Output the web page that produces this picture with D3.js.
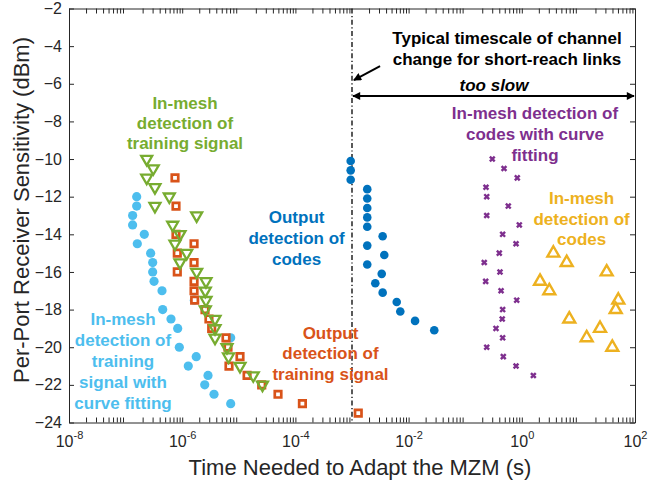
<!DOCTYPE html>
<html>
<head>
<meta charset="utf-8">
<script src="https://cdn.jsdelivr.net/npm/d3@7"></script>
<style>
  body { margin: 0; background: #fff; }
  svg text { font-family: "Liberation Sans", Arial, Helvetica, sans-serif; }
  .axis path, .axis line { stroke: #262626; stroke-width: 1; }
  .axis text { fill: #262626; font-size: 16px; }
  .note { font-weight: bold; font-size: 17px; text-anchor: middle; }
</style>
</head>
<body>
<svg id="chart"></svg>
<script>
// in-mesh detection of training signal with curve fitting (light blue)
var fitTrainX = [1.57e-7, 1.57e-7, 1.33e-7, 1.33e-7, 2.14e-7, 1.61e-7, 2.77e-7, 3.01e-7, 3.01e-7, 3.18e-7, 4.40e-7, 1.64e-6,
  4.52e-7, 6.34e-7, 8.32e-7, 7.19e-6, 8.89e-7, 1.77e-6, 1.28e-6, 2.86e-6, 2.50e-6, 3.65e-6, 7.19e-6];
var fitTrainY = [-12, -12.5, -13, -13.5, -14, -14.5, -15, -15.5, -16, -16.5, -17, -17.5,
  -18, -18.5, -19, -19.5, -20, -20.5, -21, -21.5, -22, -22.5, -23];

// output detection of training signal (orange)
var outTrainX = [7.46e-7, 7.77e-7, 7.77e-7, 1.62e-6, 8.19e-7, 1.62e-6, 8.19e-7, 1.62e-6, 1.62e-6, 1.66e-6, 2.53e-6,
  2.97e-6, 3.32e-6, 5.94e-6, 6.44e-6, 1.05e-5, 6.71e-6, 1.40e-5, 2.54e-5, 4.93e-5, 1.33e-4, 1.29e-3];
var outTrainY = [-11, -12.5, -14, -14.5, -15, -15.5, -16, -16.5, -17, -17.5, -18,
  -18.5, -19, -19.5, -20, -20.5, -21, -21.5, -22, -22.5, -23, -23.5];

// in-mesh detection of training signal (green)
var meshTrainX = [2.36e-7, 3.08e-7, 2.36e-7, 3.30e-7, 5.92e-7, 3.30e-7, 1.80e-6, 6.79e-7, 9.14e-7, 7.46e-7, 1.20e-6, 9.14e-7, 1.80e-6,
  2.63e-6, 2.56e-6, 2.63e-6, 2.56e-6, 3.80e-6, 3.80e-6, 3.80e-6, 6.19e-6, 6.58e-6, 1.05e-5, 1.80e-5, 2.62e-5];
var meshTrainY = [-10, -10.5, -11, -11.5, -12, -12.5, -13, -13.5, -14, -14.5, -15, -15.5, -16,
  -16.5, -17, -17.5, -18, -18.5, -19, -19.5, -20, -20.5, -21, -21.5, -22];

// output detection of codes (dark blue)
var outCodesX = [9.48e-4, 9.48e-4, 9.48e-4, 1.86e-3, 1.86e-3, 1.86e-3, 1.86e-3, 1.86e-3, 3.48e-3, 1.86e-3,
  3.72e-3, 1.86e-3, 3.35e-3, 2.58e-3, 3.48e-3, 6.17e-3, 7.13e-3, 1.30e-2, 2.84e-2];
var outCodesY = [-10.1, -10.6, -11.1, -11.6, -12.1, -12.6, -13.1, -13.6, -14.1, -14.6,
  -15.1, -15.6, -16.1, -16.6, -17.1, -17.6, -18.1, -18.6, -19.1];

// in-mesh detection of codes with curve fitting (purple)
var fitCodesX = [0.301, 0.485, 0.832, 0.233, 0.240, 0.577, 0.240, 0.904, 0.459, 0.791, 0.400, 0.217,
  0.412, 0.230, 0.430, 0.813, 0.459, 0.451, 0.350, 0.459, 0.240, 0.471, 0.791, 1.60];
var fitCodesY = [-10, -10.5, -11, -11.5, -12, -12.5, -13, -13.5, -14, -14.5, -15, -15.5,
  -16, -16.5, -17, -17.5, -18, -18.5, -19, -19.5, -20, -20.5, -21, -21.5];

// in-mesh detection of codes (yellow)
var meshCodesX = [3.61, 6.21, 31.6, 2.10, 3.06, 50.7, 45.6, 6.90, 24.1, 14.0, 39.7];
var meshCodesY = [-15, -15.5, -16, -16.5, -17, -17.5, -18, -18.5, -19, -19.5, -20];

// ticks
var xExponents = [-8, -6, -4, -2, 0, 2];
var yTicks = [-2, -4, -6, -8, -10, -12, -14, -16, -18, -20, -22, -24];

var margin = { top: 8.5, right: 15, bottom: 65.5, left: 69 };
var width = 650;
var height = 488;

var svg = d3.select('#chart')
  .attr('width', width)
  .attr('height', height);

var x = d3.scaleLog()
  .domain([1e-8, 1e2])
  .range([margin.left, width - margin.right]);

var y = d3.scaleLinear()
  .domain([-24, -2])
  .range([height - margin.bottom, margin.top]);

function zip(xs, ys) {
  return xs.map(function(v, i) { return { x: v, y: ys[i] }; });
}

// major / minor x ticks
var xMajor = xExponents.map(function(e) { return Math.pow(10, e); });
var xMinor = [];
for (var e = -8; e < 2; e++) {
  for (var k = 2; k <= 9; k++) xMinor.push(k * Math.pow(10, e));
}

// 坐标轴
var bottom = svg.append('g')
  .attr('class', 'axis')
  .attr('transform', 'translate(0,' + y(-24) + ')')
  .call(d3.axisBottom(x).tickValues(xMajor).tickSize(-5).tickSizeOuter(0).tickPadding(13).tickFormat(''));

bottom.selectAll('.tick text')
  .each(function(d, i) {
    var t = d3.select(this);
    t.append('tspan').text('10');
    t.append('tspan')
      .attr('font-size', 11)
      .attr('dy', '-0.75em')
      .text(xExponents[i]);
  });

svg.append('g')
  .attr('class', 'axis')
  .attr('transform', 'translate(0,' + y(-24) + ')')
  .call(d3.axisBottom(x).tickValues(xMinor).tickSize(-5).tickFormat(''))
  .call(function(g) { g.select('.domain').remove(); });

svg.append('g')
  .attr('class', 'axis')
  .attr('transform', 'translate(0,' + y(-2) + ')')
  .call(d3.axisTop(x).tickValues(xMajor.concat(xMinor)).tickSize(-5).tickSizeOuter(0).tickFormat(''));

svg.append('g')
  .attr('class', 'axis')
  .attr('transform', 'translate(' + x(1e-8) + ',0)')
  .call(d3.axisLeft(y).tickValues(yTicks).tickSize(-5).tickSizeOuter(0).tickPadding(7));

svg.append('g')
  .attr('class', 'axis')
  .attr('transform', 'translate(' + x(1e2) + ',0)')
  .call(d3.axisRight(y).tickValues(yTicks).tickSize(-5).tickSizeOuter(0).tickFormat(''));

// axis titles
svg.append('text')
  .attr('x', 360)
  .attr('y', 475)
  .attr('text-anchor', 'middle')
  .attr('font-size', 22)
  .attr('fill', '#262626')
  .text('Time Needed to Adapt the MZM (s)');

svg.append('text')
  .attr('transform', 'translate(29,210) rotate(-90)')
  .attr('text-anchor', 'middle')
  .attr('font-size', 22)
  .attr('fill', '#262626')
  .text('Per-Port Receiver Sensitivity (dBm)');

// dash-dot line at 1 ms
svg.append('line')
  .attr('x1', x(1e-3))
  .attr('x2', x(1e-3))
  .attr('y1', y(-2))
  .attr('y2', y(-24))
  .attr('stroke', '#000')
  .attr('stroke-width', 1.3)
  .attr('stroke-dasharray', '5,2.5,1.2,2.5');

// arrow heads
var defs = svg.append('defs');
defs.append('marker')
  .attr('id', 'head')
  .attr('viewBox', '0 0 10 10')
  .attr('refX', 9)
  .attr('refY', 5)
  .attr('markerUnits', 'userSpaceOnUse')
  .attr('markerWidth', 10)
  .attr('markerHeight', 8)
  .attr('orient', 'auto-start-reverse')
  .append('path')
  .attr('d', 'M0,0L10,5L0,10z')
  .attr('fill', '#000');

svg.append('line')
  .attr('x1', x(1e-3) + 1)
  .attr('x2', x(1e2) - 1)
  .attr('y1', y(-6.65))
  .attr('y2', y(-6.65))
  .attr('stroke', '#000')
  .attr('stroke-width', 2)
  .attr('marker-start', 'url(#head)')
  .attr('marker-end', 'url(#head)');

svg.append('line')
  .attr('x1', x(3.13e-3))
  .attr('y1', y(-5.06))
  .attr('x2', x(1.08e-3))
  .attr('y2', y(-5.8))
  .attr('stroke', '#000')
  .attr('stroke-width', 2)
  .attr('marker-end', 'url(#head)');

svg.append('text')
  .attr('class', 'note')
  .attr('x', x(0.323))
  .attr('y', y(-6.38))
  .attr('font-style', 'italic')
  .attr('font-size', 16)
  .attr('fill', '#000')
  .text('too slow');

// 数据点
svg.append('g')
  .selectAll('circle')
  .data(zip(fitTrainX, fitTrainY))
  .enter()
  .append('circle')
  .attr('cx', function(d) { return x(d.x); })
  .attr('cy', function(d) { return y(d.y); })
  .attr('r', 4.6)
  .attr('fill', '#4DBEEE');

svg.append('g')
  .selectAll('path')
  .data(zip(outTrainX, outTrainY))
  .enter()
  .append('path')
  .attr('transform', function(d) { return 'translate(' + x(d.x) + ',' + y(d.y) + ')'; })
  .attr('d', d3.symbol(d3.symbolSquare, 42))
  .attr('fill', '#fff')
  .attr('stroke', '#D95319')
  .attr('stroke-width', 2.7);

svg.append('g')
  .selectAll('path')
  .data(zip(meshTrainX, meshTrainY))
  .enter()
  .append('path')
  .attr('transform', function(d) { return 'translate(' + x(d.x) + ',' + y(d.y) + ') rotate(180)'; })
  .attr('d', d3.symbol(d3.symbolTriangle, 52))
  .attr('fill', 'none')
  .attr('stroke', '#77AC30')
  .attr('stroke-width', 2.3);

svg.append('g')
  .selectAll('circle')
  .data(zip(outCodesX, outCodesY))
  .enter()
  .append('circle')
  .attr('cx', function(d) { return x(d.x); })
  .attr('cy', function(d) { return y(d.y); })
  .attr('r', 4.3)
  .attr('fill', '#0072BD');

svg.append('g')
  .selectAll('path')
  .data(zip(fitCodesX, fitCodesY))
  .enter()
  .append('path')
  .attr('transform', function(d) { return 'translate(' + x(d.x) + ',' + y(d.y) + ')'; })
  .attr('d', d3.symbol(d3.symbolX, 17))
  .attr('fill', 'none')
  .attr('stroke', '#7E2F8E')
  .attr('stroke-width', 2.4);

svg.append('g')
  .selectAll('path')
  .data(zip(meshCodesX, meshCodesY))
  .enter()
  .append('path')
  .attr('transform', function(d) { return 'translate(' + x(d.x) + ',' + y(d.y) + ')'; })
  .attr('d', d3.symbol(d3.symbolTriangle, 62))
  .attr('fill', 'none')
  .attr('stroke', '#EDB120')
  .attr('stroke-width', 2.4);

// 标注文字
var notes = [
  { lines: ['In-mesh', 'detection of', 'training signal'], x: 1.12e-6, y: -7.32, color: '#77AC30', lh: 20.3 },
  { lines: ['Output', 'detection of', 'codes'], x: 1.05e-4, y: -13.42, color: '#0072BD', lh: 20.7 },
  { lines: ['In-mesh', 'detection of', 'training', 'signal with', 'curve fitting'], x: 9.0e-8, y: -18.83, color: '#4DBEEE', lh: 21 },
  { lines: ['Output', 'detection of', 'training signal'], x: 4.17e-4, y: -19.56, color: '#D95319', lh: 20.5 },
  { lines: ['In-mesh detection of', 'codes with curve', 'fitting'], x: 1.71, y: -7.87, color: '#7E2F8E', lh: 21 },
  { lines: ['In-mesh', 'detection of', 'codes'], x: 11.4, y: -12.4, color: '#EDB120', lh: 20.5 },
  { lines: ['Typical timescale of channel', 'change for short-reach links'], x: 0.548, y: -3.86, color: '#000', lh: 21.5, size: 18 }
];

notes.forEach(function(n) {
  var t = svg.append('text')
    .attr('class', 'note')
    .attr('fill', n.color)
    .attr('font-size', n.size || 17);
  n.lines.forEach(function(line, i) {
    t.append('tspan')
      .attr('x', x(n.x))
      .attr('y', y(n.y) + i * n.lh)
      .text(line);
  });
});
</script>
</body>
</html>
